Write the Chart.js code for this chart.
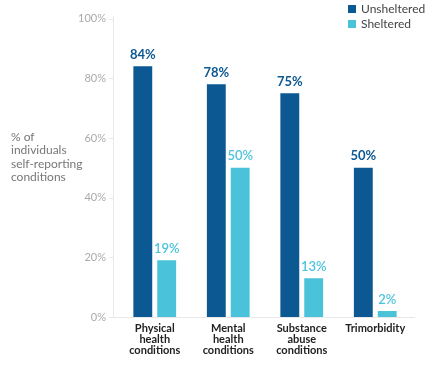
<!DOCTYPE html>
<html lang="en">
<head>
    <meta charset="utf-8">
    <title>Self-reported conditions</title>
    <script src="https://cdn.jsdelivr.net/npm/chart.js"></script>
    <style>
        body {
            margin: 0;
            padding: 0;
            background: #fff;
            font-family: 'Lato', sans-serif;
        }
        .wrap {
            position: relative;
            width: 438px;
            height: 365px;
        }
        /* legend sits top right, stacked */
        #legend {
            position: absolute;
            left: 348px;
            top: 1px;
            font-size: 12px;
            color: #444;
        }
        #legend div {
            height: 15px;
            line-height: 15px;
            white-space: nowrap;
        }
        #legend span {
            display: inline-block;
            width: 8px;
            height: 8px;
            margin-right: 5px;
            vertical-align: -0px;
        }
    </style>
</head>
<body>
<div class="wrap">
    <canvas id="conditions" width="438" height="365"></canvas>
    <div id="legend"></div>
</div>

<script>
    const categories = [
        ['Physical', 'health', 'conditions'],
        ['Mental', 'health', 'conditions'],
        ['Substance', 'abuse', 'conditions'],
        'Trimorbidity'
    ];
    const unsheltered = [84, 78, 75, 50];
    const sheltered = [19, 50, 13, 2];
    const yTicks = [0, 20, 40, 60, 80, 100];
    const yTitle = ['% of', 'individuals', 'self-reporting', 'conditions'];

    const darkBlue = '#0c5892';
    const lightBlue = '#4ac3da';

    // axis lines, tick marks, the y title and the bar values
    const extras = {
        id: 'extras',
        afterDatasetsDraw(chart) {
            const ctx = chart.ctx;
            const area = chart.chartArea;
            const y = chart.scales.y;
            const axisX = area.left - 5;
            ctx.save();
            ctx.strokeStyle = '#e8e8ea';
            ctx.lineWidth = 1;
            ctx.beginPath();
            ctx.moveTo(axisX + 0.5, area.top - 3);
            ctx.lineTo(axisX + 0.5, area.bottom);
            ctx.moveTo(axisX, area.bottom + 0.5);
            ctx.lineTo(area.right + 3, area.bottom + 0.5);
            yTicks.forEach(t => {
                const py = Math.round(y.getPixelForValue(t)) + 0.5;
                ctx.moveTo(axisX - 4, py);
                ctx.lineTo(axisX, py);
            });
            ctx.stroke();

            ctx.fillStyle = '#777';
            ctx.font = '12px Lato';
            ctx.textAlign = 'left';
            ctx.textBaseline = 'middle';
            yTitle.forEach((line, i) => ctx.fillText(line, 11, 137 + i * 13.5));

            ctx.textAlign = 'center';
            ctx.textBaseline = 'bottom';
            chart.data.datasets.forEach((ds, di) => {
                const meta = chart.getDatasetMeta(di);
                ctx.fillStyle = ds.backgroundColor;
                ctx.font = (di === 0 ? 'bold ' : '600 ') + '13px Lato';
                meta.data.forEach((bar, i) => {
                    ctx.fillText(ds.data[i] + '%', bar.x, bar.y - 5);
                });
            });
            ctx.restore();
        }
    };

    const chart = new Chart(document.getElementById('conditions'), {
        type: 'bar',
        data: {
            labels: categories,
            datasets: [{
                label: 'Unsheltered',
                data: unsheltered,
                backgroundColor: darkBlue,
                categoryPercentage: 0.65,
                barPercentage: 0.79
            }, {
                label: 'Sheltered',
                data: sheltered,
                backgroundColor: lightBlue,
                categoryPercentage: 0.65,
                barPercentage: 0.79
            }]
        },
        options: {
            responsive: false,
            animation: false,
            layout: { padding: { top: 16, right: 26 } },
            plugins: {
                legend: { display: false },
                tooltip: { enabled: false }
            },
            scales: {
                x: {
                    grid: { display: false, drawTicks: false },
                    border: { display: false },
                    ticks: {
                        color: '#222',
                        font: { family: 'Lato', size: 11, weight: 'bold', lineHeight: 1 },
                        padding: 6,
                        maxRotation: 0,
                        autoSkip: false
                    },
                    afterFit: s => { s.height = 48; }
                },
                y: {
                    min: 0,
                    max: 100,
                    grid: { display: false, drawTicks: false },
                    border: { display: false },
                    ticks: {
                        stepSize: 20,
                        color: '#aaa',
                        font: { family: 'Lato', size: 11 },
                        padding: 12,
                        callback: v => v + '%'
                    },
                    afterFit: s => { s.width = 118; }
                }
            }
        },
        plugins: [extras]
    });

    // stacked legend in the corner
    const legend = document.getElementById('legend');
    chart.data.datasets.forEach(ds => {
        const row = document.createElement('div');
        row.innerHTML = '<span style="background:' + ds.backgroundColor + '"></span>' + ds.label;
        legend.appendChild(row);
    });
</script>
</body>
</html>
